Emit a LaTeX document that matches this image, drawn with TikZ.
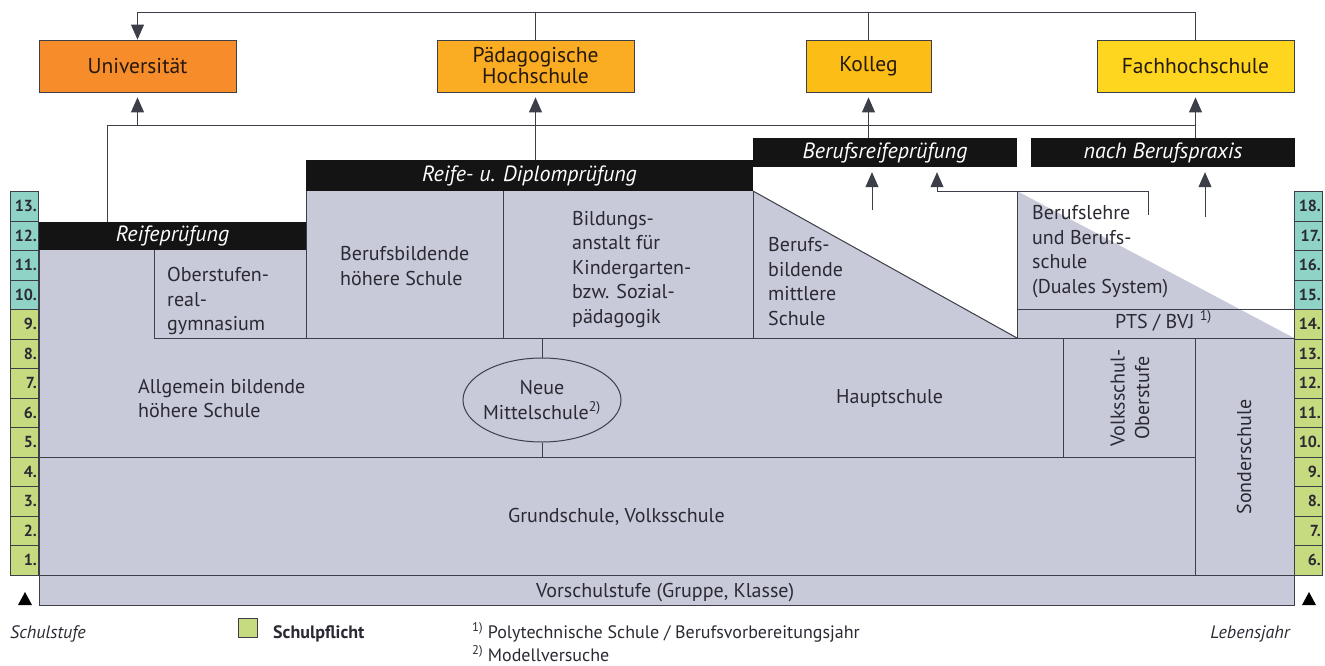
\documentclass[tikz,border=0pt]{standalone}
\usepackage{fontspec}
\setmainfont{PT Sans}
\usetikzlibrary{arrows.meta,positioning,calc,shapes.geometric}

\definecolor{schulgrau}{RGB}{201,202,217}
\definecolor{unifarbe}{RGB}{246,141,42}
\definecolor{phfarbe}{RGB}{250,172,34}
\definecolor{kollegfarbe}{RGB}{252,190,22}
\definecolor{fhfarbe}{RGB}{254,214,32}
\definecolor{stufetuerkis}{RGB}{142,211,198}
\definecolor{stufegruen}{RGB}{198,219,128}
\definecolor{strich}{RGB}{60,62,72}
\definecolor{schrift}{RGB}{42,42,52}

\tikzset{
	hsbox/.style={draw=strich, line width=0.8pt, minimum height=52, inner sep=0,
		text=black!80!brown, align=center, font=\fontsize{21.5}{21}\selectfont},
	pruefbar/.style={fill=black!92, text=white, inner sep=0,
		font=\itshape\fontsize{22}{22}\selectfont},
	stufe/.style={draw=strich, line width=0.8pt, anchor=north west, minimum width=28,
		minimum height=29.5, inner sep=0, text width=25, align=right, text=schrift,
		font=\bfseries\fontsize{16}{16}\selectfont},
	schultext/.style={text=schrift, inner sep=0, align=left,
		font=\fontsize{20}{24.5}\selectfont},
	legende/.style={text=schrift, inner sep=0, font=\fontsize{18}{22}\selectfont},
	rand/.style={draw=strich, line width=1pt},
	verb/.style={draw=strich, line width=0.9pt},
	flow/.style={verb, -{Triangle[width=13pt,length=15pt]}},
}

\begin{document}
\begin{tikzpicture}[x=1pt, y=-1pt]
	\useasboundingbox (0,0) rectangle (1325,666);

	% Schulbloecke
	\fill[schulgrau] (39,250) -- (306,250) -- (306,191) -- (753,191) -- (1017,338)
		-- (1017,191) -- (1294,338) -- (1294,605) -- (39,605) -- cycle;
	\draw[rand] (39,250) -- (39,605) -- (1294,605) -- (1294,338);
	\draw[rand] (39,575) -- (1294,575);
	\draw[rand] (39,457) -- (1195,457);
	\draw[rand] (154,250) -- (154,338) -- (1294,338);
	\draw[rand] (306,191) -- (306,338);
	\draw[rand] (503,191) -- (503,338);
	\draw[rand] (753,191) -- (753,338);
	\draw[rand] (753,191) -- (1017,338);
	\draw[rand] (1017,191) -- (1017,338);
	\draw[rand] (1017,309) -- (1294,309);
	\draw[rand] (1063,338) -- (1063,457);
	\draw[rand] (1195,338) -- (1195,575);

	% Schulstufen und Lebensjahre
	\foreach \n [count=\i from 0] in {13,12,11,10}
		\node[stufe, fill=stufetuerkis] (ls\n) at (10,{191+29.5*\i}) {\n.};
	\foreach \n [count=\i from 4] in {9,...,1}
		\node[stufe, fill=stufegruen] (ls\n) at (10,{191+29.5*\i}) {\n.};
	\foreach \n [count=\i from 0] in {18,17,16,15}
		\node[stufe, fill=stufetuerkis] (rs\n) at (1294,{191+29.5*\i}) {\n.};
	\foreach \n [count=\i from 4] in {14,...,6}
		\node[stufe, fill=stufegruen] (rs\n) at (1294,{191+29.5*\i}) {\n.};

	% Hochschulen
	\node[hsbox, fill=unifarbe, minimum width=197] (uni) at (137.5,66) {Universität};
	\node[hsbox, fill=phfarbe, minimum width=197] (ph) at (535.5,66) {Pädagogische\\Hochschule};
	\node[hsbox, fill=kollegfarbe, minimum width=125] (kolleg) at (868.5,66) {Kolleg};
	\node[hsbox, fill=fhfarbe, minimum width=197] (fh) at (1195.5,66) {Fachhochschule};

	% Pruefungen
	\node[pruefbar, minimum width=267, minimum height=28] (reife) at (172.5,236) {Reifeprüfung};
	\node[pruefbar, minimum width=447, minimum height=31] (diplom) at (529.5,175.5) {Reife- u. Diplomprüfung};
	\node[pruefbar, minimum width=264, minimum height=29] (brp) at (885,152.5) {Berufsreifeprüfung};
	\node[pruefbar, minimum width=264, minimum height=29] (praxis) at (1163,152.5) {nach Berufspraxis};

	% Schularten
	\node[schultext, anchor=west] (ahs) at (138,398.5) {Allgemein bildende\\höhere Schule};
	\node[schultext, anchor=west] (org) at (167,301) {Oberstufen-\\real-\\gymnasium};
	\node[schultext, anchor=west] (bhs) at (340,266) {Berufsbildende\\höhere Schule};
	\node[schultext, anchor=west] (bakip) at (572,269.5) {Bildungs-\\anstalt für\\Kindergarten-\\bzw. Sozial-\\pädagogik};
	\node[schultext, anchor=west] (bms) at (768,281.5) {Berufs-\\bildende\\mittlere\\Schule};
	\node[schultext, anchor=west] (lehre) at (1032,251.5) {Berufslehre\\und Berufs-\\schule\\(Duales System)};
	\node[schultext, anchor=base west] (pts) at (1115,328) {PTS / BVJ \textsuperscript{1)}};
	\node[schultext, anchor=base west] (hs) at (836,403) {Hauptschule};
	\node[schultext, draw=strich, line width=1pt, ellipse, align=center, inner xsep=-4pt,
		minimum width=158, minimum height=84] (nms) at (542,400) {Neue\\Mittelschule\textsuperscript{2)}};
	\node[schultext, align=center, rotate=90] (vso) at (1130,398) {Volksschul-\\Oberstufe};
	\node[schultext, rotate=90] (sonder) at (1244,457) {Sonderschule};
	\node[schultext, anchor=base west] (gs) at (508,522) {Grundschule, Volksschule};
	\node[schultext, anchor=base west] (vs) at (536,597) {Vorschulstufe (Gruppe, Klasse)};
	\draw[rand] (nms.north) -- (nms.north |- 0,338);
	\draw[rand] (nms.south) -- (nms.south |- 0,457);

	% Uebergaenge
	\coordinate (bus) at (0,125);
	\draw[verb] ([xshift=-65.5]reife.north) |- (fh.south |- bus);
	\draw[flow, shorten >=5pt] (uni.south |- bus) -- (uni.south);
	\draw[flow, shorten >=5pt] (diplom.north -| ph.south) -- (ph.south);
	\draw[flow, shorten >=5pt] (brp.north -| kolleg.south) -- (kolleg.south);
	\draw[flow, shorten >=5pt] (praxis.north -| fh.south) -- (fh.south);
	\draw[flow] (fh.north) |- ($(uni.north)+(0,-27)$) -- (uni.north);
	\draw[verb] (ph.north) -- ++(0,-27);
	\draw[verb] (kolleg.north) -- ++(0,-27);
	\coordinate (bmsab) at (872,210);
	\coordinate (lehreab) at (1148,215);
	\coordinate (praxisab) at (1205,217);
	\draw[flow, shorten >=5pt] (bmsab) -- (bmsab |- brp.south);
	\draw[flow, shorten >=5pt] (lehreab) |- ([xshift=52]brp.south |- 0,191) -- ([xshift=52]brp.south);
	\draw[flow, shorten >=5pt] (praxisab) -- (praxisab |- praxis.south);

	% Legende
	\fill[black] (18,605) -- (32,605) -- (25,592) -- cycle;
	\fill[black] (1302,605) -- (1316,605) -- (1309,592) -- cycle;
	\node[legende, font=\itshape\fontsize{18}{22}\selectfont, anchor=base west] (schulstufe) at (10,638) {Schulstufe};
	\node[draw=strich, line width=0.8pt, fill=stufegruen, minimum size=19, inner sep=0] (pflicht) at (247.5,628) {};
	\node[legende, font=\bfseries\fontsize{18}{22}\selectfont, anchor=base west] (pflichttext) at (273,638) {Schulpflicht};
	\node[legende, anchor=base west] (fussnote1) at (472,638) {\textsuperscript{1)} Polytechnische Schule / Berufsvorbereitungsjahr};
	\node[legende, anchor=base west] (fussnote2) at (472,661) {\textsuperscript{2)} Modellversuche};
	\node[legende, font=\itshape\fontsize{18}{22}\selectfont, anchor=base east] (lebensjahr) at (1290,638) {Lebensjahr};
\end{tikzpicture}
\end{document}
